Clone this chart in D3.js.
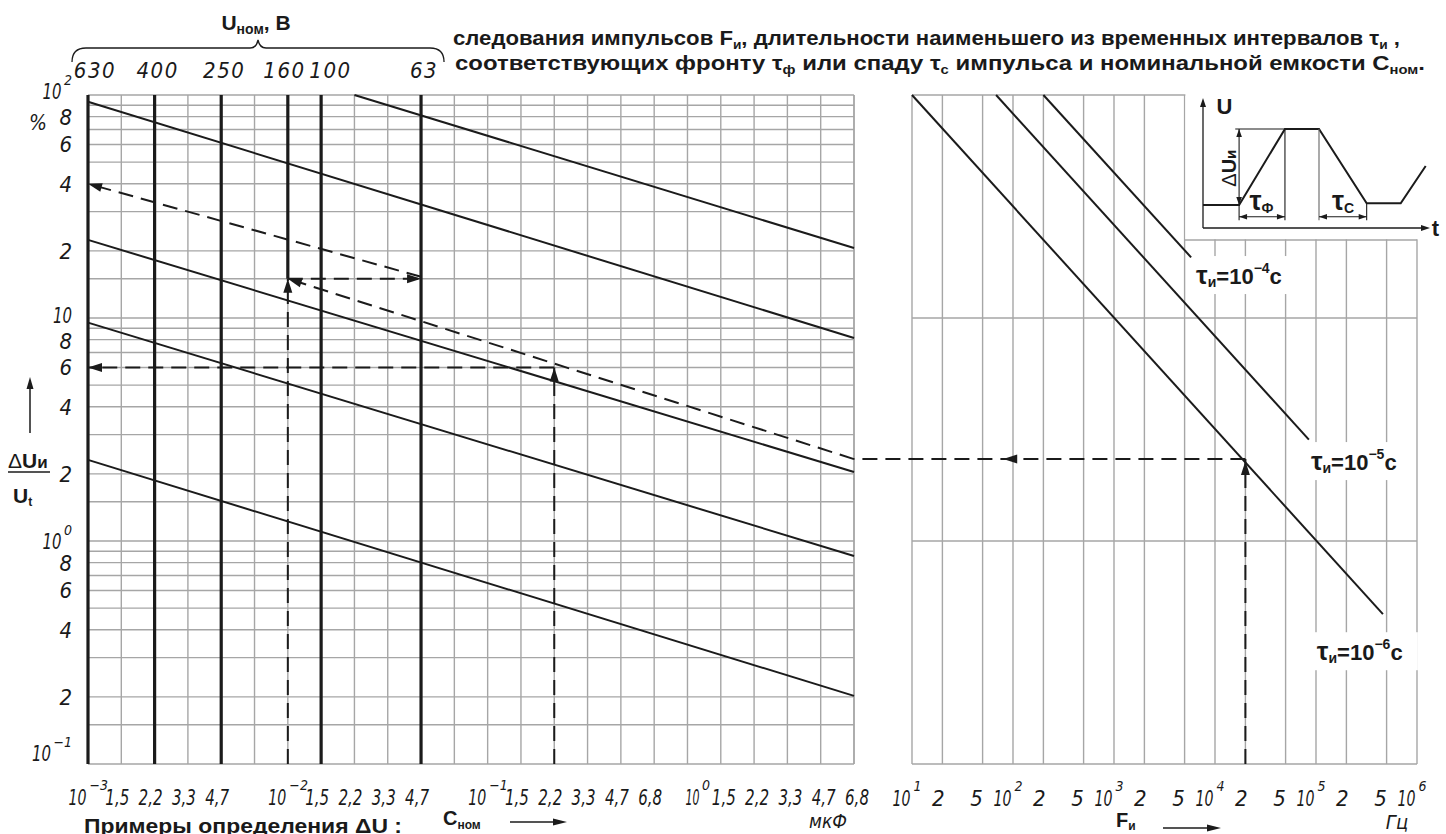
<!DOCTYPE html>
<html><head><meta charset="utf-8">
<script src="https://cdn.jsdelivr.net/npm/d3@7"></script>
<style>
html,body{margin:0;padding:0;background:#fff;}
svg{display:block;}
.tk{font-family:"Liberation Sans Narrow","DejaVu Sans Condensed","DejaVu Sans",sans-serif;font-style:italic;fill:#1a1a1a;}
.bd{font-family:"Liberation Sans",Arial,sans-serif;font-weight:bold;fill:#1a1a1a;}
</style></head><body>
<svg id="c" width="1446" height="834"></svg>
<script>
// ---------------- DATA ----------------
// left nomogram: nominal capacitance (µF), E6 grid
const capGridValues = [0.001,0.0015,0.0022,0.0033,0.0047,0.0068,0.01,0.015,0.022,0.033,0.047,0.068,0.1,0.15,0.22,0.33,0.47,0.68,1,1.5,2.2,3.3,4.7,6.8];
const capTickValues = [0.001,0.0015,0.0022,0.0033,0.0047,0.01,0.015,0.022,0.033,0.047,0.1,0.15,0.22,0.33,0.47,0.68,1,1.5,2.2,3.3,4.7,6.8];
const capTickText   = ["10^−3","1,5","2,2","3,3","4,7","10^−2","1,5","2,2","3,3","4,7","10^−1","1,5","2,2","3,3","4,7","6,8","10^0","1,5","2,2","3,3","4,7","6,8"];
// ΔU/U, %
const pctMantissas = [1,1.5,2,3,4,5,6,7,8,9];
const pctDecades = [0.1,1,10];
const pctTickValues = [100,80,60,40,20,10,8,6,4,2,1,0.8,0.6,0.4,0.2,0.1];
const pctTickText   = ["10^2","8","6","4","2","10","8","6","4","2","10^0","8","6","4","2","10^−1"];
// rated voltage lines
const voltText = ["630","400","250","160","100","63"];
const voltCap  = [0.001,0.0022,0.0047,0.01,0.015,0.047];
const voltTopPct = [100,100,100,100,100,100];
const voltBottomPct = [0.1,0.1,0.1,15,0.1,0.1];
// diagonal characteristic lines (start / end)
const lineStartCap = [0.001,0.022,0.001,0.001,0.001];
const lineStartPct = [93.3,100,22.4,9.53,2.31];
const lineEndCap   = [6.8,6.8,6.8,6.8,6.8];
const lineEndPct   = [8.13,20.6,2.04,0.857,0.202];
// worked examples (dashed), each point [C, ΔU%]
const exampleVertical1 = [[0.01,0.1],[0.01,15]];
const exampleHorizontal1 = [[0.01,15],[0.047,15]];
const exampleSlope1 = [[0.047,15.3],[0.001,40]];
const exampleSlope2 = [[6.8,2.33],[0.01,15]];
const exampleVertical3 = [[0.22,0.1],[0.22,6]];
const exampleHorizontal3 = [[0.22,6],[0.001,6]];
// right nomogram: pulse frequency, Hz
const freqGridValues = [10,20,50,100,200,500,1e3,2e3,5e3,1e4,2e4,5e4,1e5,2e5,5e5,1e6];
const freqTickText   = ["10^1","2","5","10^2","2","5","10^3","2","5","10^4","2","5","10^5","2","5","10^6"];
const rightHLines = [100,10,1,0.1];
const tauText    = ["−4","−5","−6"];
const tauStartF  = [200,68,10];
const tauStartU  = [100,100,100];
const tauEndF    = [5800,85000,460000];
const tauEndU    = [18.7,2.85,0.47];
const tauLabelF  = [6500,89000,102000];
const tauLabelU  = [14.2,2.08,0.292];
const exampleFreq = 2e4, exampleFreqPct = 2.33, exampleArrowFreq = 80;
// inset pulse sketch (relative units 0..100)
const pulseT = [0,15.9,36.1,51.1,72.1,87.1,98.1];
const pulseU = [17.7,17.7,76.2,76.2,19,19,47.7];

// ---------------- SCALES ----------------
const svg = d3.select('#c');
const xC = d3.scaleLog().domain([0.001, Math.pow(10,5/6)]).range([88,854]);
const snapE6 = v => Math.pow(10, Math.round(Math.log10(v)*6)/6);
const cx = v => xC(snapE6(v));
const yP = d3.scaleLog().domain([0.1,100]).range([764,95]);
const xF = d3.scaleLog().domain([10,1e6]).range([912,1417]);
const xI = d3.scaleLinear().domain([0,100]).range([1203,1430]);
const yI = d3.scaleLinear().domain([0,100]).range([228,98]);

const INK = '#1b1b1b', GRID = '#a6a6a6';
const DASH = '15,8';
const TK = 22;

function arrowHead(g, x1,y1,x2,y2, L=14, Wd=4.5){
  const a = Math.atan2(y2-y1, x2-x1);
  const bx = x2 - L*Math.cos(a), by = y2 - L*Math.sin(a);
  const px = -Math.sin(a)*Wd, py = Math.cos(a)*Wd;
  g.append('path').attr('d',`M${x2},${y2}L${bx+px},${by+py}L${bx-px},${by-py}Z`).attr('fill',INK);
}
// text squeezed horizontally to a target width (GOST-like narrow lettering)
function fitText(g, x, y, str, size, target, anchor){
  const t = g.append('text').attr('class','tk').attr('font-size',size).attr('text-anchor',anchor||'start').text(str);
  const w = t.node().getComputedTextLength();
  const s = target ? Math.min(1, target/w) : 1;
  t.attr('transform',`translate(${x},${y}) scale(${s},1)`);
  return t;
}

// ---------------- LEFT GRID ----------------
const gL = svg.append('g');
const pctGrid = [];
pctDecades.forEach(d => pctMantissas.forEach(m => pctGrid.push(d*m)));
pctGrid.push(100);
gL.selectAll('line.h').data(pctGrid).join('line')
  .attr('x1',xC.range()[0]).attr('x2',xC.range()[1])
  .attr('y1',d=>yP(d)).attr('y2',d=>yP(d))
  .attr('stroke',GRID).attr('stroke-width',1.4);
gL.selectAll('line.v').data(capGridValues).join('line')
  .attr('x1',d=>cx(d)).attr('x2',d=>cx(d))
  .attr('y1',yP(100)).attr('y2',yP(0.1))
  .attr('stroke',GRID).attr('stroke-width',1.4);
gL.append('line').attr('x1',xC.range()[1]).attr('x2',xC.range()[1]).attr('y1',yP(100)).attr('y2',yP(0.1)).attr('stroke',GRID).attr('stroke-width',1.4);

// ---------------- RIGHT GRID ----------------
const gR = svg.append('g');
gR.selectAll('line.v').data(freqGridValues).join('line')
  .attr('x1',d=>xF(d)).attr('x2',d=>xF(d))
  .attr('y1',yP(100)).attr('y2',yP(0.1))
  .attr('stroke',GRID).attr('stroke-width',1.4);
gR.selectAll('line.h').data(rightHLines).join('line')
  .attr('x1',xF.range()[0]).attr('x2',xF.range()[1])
  .attr('y1',d=>yP(d)).attr('y2',d=>yP(d))
  .attr('stroke',GRID).attr('stroke-width',1.4);
// inset notch
const notchX = xF(5e3), notchY = 240;
gR.append('rect').attr('x',notchX+0.8).attr('y',0).attr('width',1446-notchX).attr('height',notchY-0.7).attr('fill','#fff');
gR.append('line').attr('x1',notchX).attr('x2',xF(1e6)).attr('y1',notchY).attr('y2',notchY).attr('stroke',GRID).attr('stroke-width',1.4);

// ---------------- THICK VOLTAGE LINES ----------------
const gT = svg.append('g');
voltCap.forEach((c,i)=>{
  gT.append('line').attr('x1',cx(c)).attr('x2',cx(c))
    .attr('y1',yP(voltTopPct[i])).attr('y2',yP(voltBottomPct[i]))
    .attr('stroke',INK).attr('stroke-width',3.2);
});
// voltage labels: centred over their lines, pushed apart when too close
const voltX = voltCap.map(c=>cx(c)+3);
voltX[0] = Math.max(voltX[0], xC.range()[0]+7);
for(let i=1;i<voltX.length;i++){
  const d = voltX[i]-voltX[i-1];
  if(d<46){ voltX[i-1]-=(46-d)/2; voltX[i]+=(46-d)/2; }
}
svg.append('g').selectAll('text').data(voltText).join('text').attr('class','tk')
  .attr('x',(d,i)=>voltX[i]).attr('y',78).attr('text-anchor','middle')
  .attr('font-size',22).attr('letter-spacing',1.5).text(d=>d);

// brace + header
const bL = cx(0.001)-16, bR = cx(0.047)+23, bM = (bL+bR)/2;
svg.append('path').attr('d',
  `M${bL},62 C${bL},53 ${bL+4},48 ${bL+14},48 L${bM-8},48 C${bM-3},48 ${bM-1},45 ${bM},40 C${bM+1},45 ${bM+3},48 ${bM+8},48 L${bR-14},48 C${bR-4},48 ${bR},53 ${bR},62`)
  .attr('fill','none').attr('stroke',INK).attr('stroke-width',1.3);
const hdr = svg.append('text').attr('class','bd').attr('x',bM-2).attr('y',30).attr('text-anchor','middle').attr('font-size',21);
hdr.append('tspan').text('U');
hdr.append('tspan').attr('font-size',14).attr('dy',4).text('ном');
hdr.append('tspan').attr('dy',-4).text(', В');

// ---------------- LEFT DIAGONAL LINES ----------------
const gD = svg.append('g');
lineStartCap.forEach((c,i)=>{
  gD.append('line').attr('x1',cx(c)).attr('y1',yP(lineStartPct[i]))
    .attr('x2',cx(lineEndCap[i])).attr('y2',yP(lineEndPct[i]))
    .attr('stroke',INK).attr('stroke-width',2);
});

// ---------------- RIGHT TAU LINES ----------------
tauStartF.forEach((f,i)=>{
  gD.append('line').attr('x1',xF(f)).attr('y1',yP(tauStartU[i]))
    .attr('x2',xF(tauEndF[i])).attr('y2',yP(tauEndU[i]))
    .attr('stroke',INK).attr('stroke-width',2);
});

// ---------------- DASHED EXAMPLES ----------------
const gE = svg.append('g');
function dashedLeft(pts, arrow){
  const p = pts.map(d=>[cx(d[0]), yP(d[1])]);
  gE.append('line').attr('x1',p[0][0]).attr('y1',p[0][1]).attr('x2',p[1][0]).attr('y2',p[1][1])
    .attr('stroke',INK).attr('stroke-width',2).attr('stroke-dasharray',DASH);
  if(arrow) arrowHead(gE,p[0][0],p[0][1],p[1][0],p[1][1]);
}
dashedLeft(exampleVertical1,true);
dashedLeft(exampleHorizontal1,true);
dashedLeft(exampleSlope1,true);
dashedLeft(exampleSlope2,true);
dashedLeft(exampleVertical3,true);
dashedLeft(exampleHorizontal3,true);
// right example
const yEx = yP(exampleFreqPct);
gE.append('line').attr('x1',xF(exampleFreq)).attr('x2',xF(exampleFreq)).attr('y1',yP(0.1)).attr('y2',yEx)
  .attr('stroke',INK).attr('stroke-width',2).attr('stroke-dasharray',DASH);
arrowHead(gE,xF(exampleFreq),yP(0.1),xF(exampleFreq),yEx+2);
gE.append('line').attr('x1',xF(exampleFreq)).attr('x2',cx(6.8)).attr('y1',yEx).attr('y2',yEx)
  .attr('stroke',INK).attr('stroke-width',2).attr('stroke-dasharray',DASH);
arrowHead(gE,xF(exampleArrowFreq)+20,yEx,xF(exampleArrowFreq),yEx);

// ---------------- TAU LABELS ----------------
tauText.forEach((t,i)=>{
  const x = xF(tauLabelF[i]), y = yP(tauLabelU[i]);
  svg.append('rect').attr('x',x-(i===0?2:7)).attr('y',y-28).attr('width',i===0?106:108).attr('height',38).attr('fill','#fff');
  const tx = svg.append('text').attr('class','bd').attr('x',x).attr('y',y).attr('font-size',22).attr('font-weight','normal');
  tx.append('tspan').attr('font-size',26).text('τ');
  tx.append('tspan').attr('font-size',14).attr('dy',3).text('и');
  tx.append('tspan').attr('dy',-3).attr('font-weight','bold').text('=10');
  tx.append('tspan').attr('font-size',14).attr('dy',-11).attr('font-weight','bold').text(t);
  tx.append('tspan').attr('dy',11).attr('font-weight','bold').text('c');
});

// ---------------- TICK LABELS ----------------
const gX = svg.append('g');
function powParts(s){ return s.split('^'); }
function xTick(x, s, base, startAtGrid, off){
  if(s.indexOf('^')>=0){
    const [b,e] = powParts(s);
    if(startAtGrid){
      fitText(gX, x-2, base, b, TK, 14, 'start');
      fitText(gX, x+14.5, base-15, e, 14, null, 'start');
    } else {
      fitText(gX, x-1.5, base, b, TK, 18, 'end');
      fitText(gX, x+1.5, base-15, e, 14, null, 'start');
    }
  } else {
    fitText(gX, x+off, base, s, TK, s.length>1 ? 24 : null, 'middle');
  }
}
capTickValues.forEach((v,i)=> xTick(cx(v), capTickText[i], 805, v===1, v>=1 ? 3 : -4));
freqGridValues.forEach((v,i)=> xTick(xF(v), freqTickText[i], 806, false, freqTickText[i]==='5' ? -6 : -4));
pctTickValues.forEach((v,i)=>{
  const s = pctTickText[i];
  let y = yP(v)+8;
  if(v===100) y = yP(v)+4;
  if(v===0.1) y = yP(v)-3;
  if(v===10) y = yP(v)+5;
  if(v===8) y = yP(v)+9;
  if(s.indexOf('^')>=0){
    const [b,e] = powParts(s);
    const sup = fitText(gX, 72, y-14, e, 14, null, 'end');
    const w = sup.node().getComputedTextLength();
    fitText(gX, 72-w-2.5, y, b, TK, 19, 'end');
  } else {
    fitText(gX, 72, y, s, TK, s.length>1 ? 19 : null, 'end');
  }
});
gX.append('text').attr('class','tk').attr('x',38).attr('y',130).attr('text-anchor','middle').attr('font-size',21).attr('font-style','normal').text('%');

// axis titles
const yt = svg.append('text').attr('class','bd').attr('x',8).attr('y',468).attr('font-size',21);
yt.append('tspan').attr('font-weight','normal').text('Δ');
yt.append('tspan').text('U');
yt.append('tspan').attr('font-size',17).text('и');
svg.append('line').attr('x1',8).attr('x2',50).attr('y1',472).attr('y2',472).attr('stroke',INK).attr('stroke-width',1.5);
const yb = svg.append('text').attr('class','bd').attr('x',13).attr('y',503).attr('font-size',21);
yb.append('tspan').text('U');
yb.append('tspan').attr('font-size',12).attr('dy',3).text('t');
svg.append('line').attr('x1',30).attr('x2',30).attr('y1',433).attr('y2',388).attr('stroke',INK).attr('stroke-width',1.5);
arrowHead(svg,30,433,30,377,12,3.5);

const ct = svg.append('text').attr('class','bd').attr('x',443).attr('y',825).attr('font-size',20);
ct.append('tspan').text('C');
ct.append('tspan').attr('font-size',12).attr('dy',4).text('ном');
svg.append('line').attr('x1',510).attr('x2',556).attr('y1',822).attr('y2',822).attr('stroke',INK).attr('stroke-width',1.3);
arrowHead(svg,510,822,567,822,14,3.5);
svg.append('text').attr('class','tk').attr('x',828).attr('y',828).attr('text-anchor','middle').attr('font-size',19).text('мкФ');

const ft = svg.append('text').attr('class','bd').attr('x',1116).attr('y',827).attr('font-size',20);
ft.append('tspan').text('F');
ft.append('tspan').attr('font-size',12).attr('dy',3).text('и');
svg.append('line').attr('x1',1163).attr('x2',1210).attr('y1',828).attr('y2',828).attr('stroke',INK).attr('stroke-width',1.3);
arrowHead(svg,1163,828,1221,828,14,3.5);
svg.append('text').attr('class','tk').attr('x',1397).attr('y',829).attr('text-anchor','middle').attr('font-size',20).text('Гц');

// ---------------- INSET ----------------
const gI = svg.append('g');
gI.append('line').attr('x1',xI(0)).attr('x2',xI(0)).attr('y1',yI(0)).attr('y2',yI(96)).attr('stroke',INK).attr('stroke-width',1.3);
arrowHead(gI,xI(0),yI(0),xI(0),yI(100),9,3);
gI.append('line').attr('x1',xI(0)).attr('x2',xI(97)).attr('y1',yI(0)).attr('y2',yI(0)).attr('stroke',INK).attr('stroke-width',1.3);
arrowHead(gI,xI(0),yI(0),xI(100),yI(0),9,3);
gI.append('path').attr('d',d3.line()(pulseT.map((t,i)=>[xI(t),yI(pulseU[i])]))).attr('fill','none').attr('stroke',INK).attr('stroke-width',2);
function thin(t1,u1,t2,u2,col){ gI.append('line').attr('x1',xI(t1)).attr('y1',yI(u1)).attr('x2',xI(t2)).attr('y2',yI(u2)).attr('stroke',col||INK).attr('stroke-width',1.1); }
thin(pulseT[1],pulseU[1],pulseT[1],76.2);
arrowHead(gI,xI(pulseT[1]),yI(40),xI(pulseT[1]),yI(76.2),8,2.8);
arrowHead(gI,xI(pulseT[1]),yI(40),xI(pulseT[1]),yI(pulseU[1]),8,2.8);
thin(14.2,76.2,pulseT[2],76.2);
thin(pulseT[1],pulseU[1],pulseT[1],6);
thin(pulseT[2],pulseU[2],pulseT[2],6);
thin(pulseT[3],pulseU[3],pulseT[3],6,'#666');
thin(pulseT[4],pulseU[4],pulseT[4],6);
[[pulseT[1],pulseT[2]],[pulseT[3],pulseT[4]]].forEach(([a,b])=>{
  thin(a,8.7,b,8.7);
  const m=(a+b)/2;
  arrowHead(gI,xI(m),yI(8.7),xI(a),yI(8.7),8,2.8);
  arrowHead(gI,xI(m),yI(8.7),xI(b),yI(8.7),8,2.8);
});
gI.append('text').attr('class','bd').attr('x',xI(6)).attr('y',yI(87.5)).attr('font-size',22).text('U');
gI.append('text').attr('class','bd').attr('x',xI(100.8)).attr('y',yI(-6)).attr('font-size',22).text('t');
const du = gI.append('text').attr('class','bd').attr('font-size',20)
  .attr('transform',`translate(${xI(11)+8},${yI(46)}) rotate(-90)`).attr('text-anchor','middle');
du.append('tspan').attr('font-weight','normal').text('Δ');
du.append('tspan').text('U');
du.append('tspan').attr('font-size',15).text('и');
const tf = gI.append('text').attr('class','bd').attr('x',xI(20.5)).attr('y',yI(13.8)).attr('font-size',27).attr('font-weight','normal');
tf.append('tspan').text('τ');
tf.append('tspan').attr('font-size',14).attr('dy',3).text('Ф');
const tc = gI.append('text').attr('class','bd').attr('x',xI(56.8)).attr('y',yI(14)).attr('font-size',27).attr('font-weight','normal');
tc.append('tspan').text('τ');
tc.append('tspan').attr('font-size',14).attr('dy',3).text('C');

// ---------------- TITLE ----------------
const t2 = svg.append('text').attr('class','bd').attr('x',453).attr('y',45).attr('font-size',21)
  .attr('textLength',947).attr('lengthAdjust','spacingAndGlyphs');
t2.append('tspan').text('следования импульсов F');
t2.append('tspan').attr('font-size',13).attr('dy',4).text('и');
t2.append('tspan').attr('dy',-4).text(', длительности наименьшего из временных интервалов τ');
t2.append('tspan').attr('font-size',13).attr('dy',4).text('и');
t2.append('tspan').attr('dy',-4).text(' ,');
const t3 = svg.append('text').attr('class','bd').attr('x',455).attr('y',70).attr('font-size',21)
  .attr('textLength',970).attr('lengthAdjust','spacingAndGlyphs');
t3.append('tspan').text('соответствующих фронту   τ');
t3.append('tspan').attr('font-size',13).attr('dy',4).text('ф');
t3.append('tspan').attr('dy',-4).text(' или спаду  τ');
t3.append('tspan').attr('font-size',13).attr('dy',4).text('с');
t3.append('tspan').attr('dy',-4).text('  импульса и номинальной емкости C');
t3.append('tspan').attr('font-size',13).attr('dy',4).text('ном');
t3.append('tspan').attr('dy',-4).text('.');
svg.append('text').attr('class','bd').attr('x',84).attr('y',833).attr('font-size',20)
  .attr('textLength',318).attr('lengthAdjust','spacingAndGlyphs').text('Примеры определения ΔU  :');
</script>
</body></html>
